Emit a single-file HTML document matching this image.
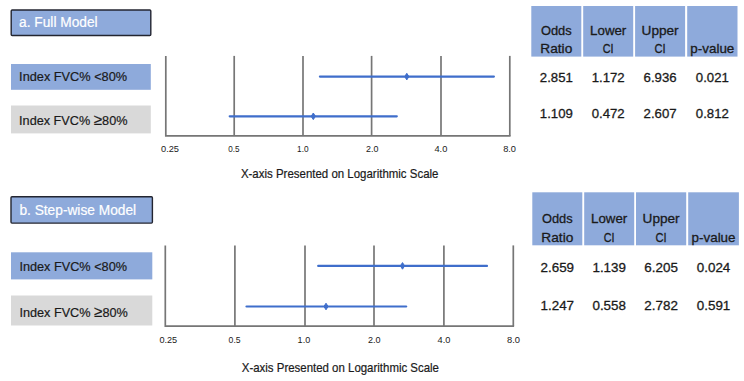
<!DOCTYPE html>
<html><head><meta charset="utf-8"><title>Forest plot</title>
<style>html,body{margin:0;padding:0;background:#fff;width:744px;height:381px;overflow:hidden}svg{display:block}</style>
</head><body>
<svg width="744" height="381" viewBox="0 0 744 381" font-family='"Liberation Sans", sans-serif'>
<rect width="744" height="381" fill="#ffffff"/>
<rect x="11.2" y="10.0" width="139.6" height="25.500000000000004" rx="1" fill="#8eaadb" stroke="#232530" stroke-width="1.4"/>
<text x="19.1" y="26.8" font-size="14" fill="#ffffff" stroke="#ffffff" text-anchor="start" textLength="78.5" lengthAdjust="spacingAndGlyphs" stroke-width="0.2">a. Full Model</text>
<rect x="11" y="64" width="139.8" height="25.799999999999997" fill="#8eaadb"/>
<text x="19.1" y="81.2" font-size="13" fill="#1a1a1a" stroke="#1a1a1a" text-anchor="start" textLength="108" lengthAdjust="spacingAndGlyphs" stroke-width="0.2">Index FVC% &lt;80%</text>
<rect x="11" y="105.5" width="139.8" height="27.900000000000006" fill="#d9d9d9"/>
<text x="19.1" y="125" font-size="13" fill="#1a1a1a" stroke="#1a1a1a" text-anchor="start" textLength="108.4" lengthAdjust="spacingAndGlyphs" stroke-width="0.2">Index FVC% <tspan font-size="15.6">≥</tspan>80%</text>
<line x1="234.2" y1="55.9" x2="234.2" y2="135.8" stroke="#767676" stroke-width="1.7"/>
<line x1="303" y1="55.9" x2="303" y2="135.8" stroke="#767676" stroke-width="1.7"/>
<line x1="371.6" y1="55.9" x2="371.6" y2="135.8" stroke="#767676" stroke-width="1.7"/>
<line x1="441" y1="55.9" x2="441" y2="135.8" stroke="#767676" stroke-width="1.7"/>
<line x1="509.8" y1="55.9" x2="509.8" y2="135.8" stroke="#767676" stroke-width="1.7"/>
<polyline points="165.8,55.9 165.8,135.8 510.6,135.8" fill="none" stroke="#767676" stroke-width="1.7"/>
<line x1="319.9" y1="76.6" x2="493.9" y2="76.6" stroke="#3f6ecb" stroke-width="2.2" stroke-linecap="round"/>
<polygon points="406.8,73.3 408.90,76.6 406.8,79.89999999999999 404.70,76.6" fill="#3f6ecb" stroke="#3f6ecb" stroke-width="1.0" stroke-linejoin="round"/>
<line x1="229.7" y1="116.3" x2="396.8" y2="116.3" stroke="#3f6ecb" stroke-width="2.2" stroke-linecap="round"/>
<polygon points="313.3,113.0 315.40,116.3 313.3,119.6 311.20,116.3" fill="#3f6ecb" stroke="#3f6ecb" stroke-width="1.0" stroke-linejoin="round"/>
<text x="170" y="152" font-size="8.6" fill="#1a1a1a" stroke="#1a1a1a" text-anchor="middle" textLength="18" lengthAdjust="spacingAndGlyphs" stroke-width="0">0.25</text>
<text x="233.9" y="152" font-size="8.6" fill="#1a1a1a" stroke="#1a1a1a" text-anchor="middle" textLength="11.3" lengthAdjust="spacingAndGlyphs" stroke-width="0">0.5</text>
<text x="302.8" y="152" font-size="8.6" fill="#1a1a1a" stroke="#1a1a1a" text-anchor="middle" textLength="11.5" lengthAdjust="spacingAndGlyphs" stroke-width="0">1.0</text>
<text x="372.3" y="152" font-size="8.6" fill="#1a1a1a" stroke="#1a1a1a" text-anchor="middle" textLength="12.4" lengthAdjust="spacingAndGlyphs" stroke-width="0">2.0</text>
<text x="440.9" y="152" font-size="8.6" fill="#1a1a1a" stroke="#1a1a1a" text-anchor="middle" textLength="12.9" lengthAdjust="spacingAndGlyphs" stroke-width="0">4.0</text>
<text x="509.6" y="152" font-size="8.6" fill="#1a1a1a" stroke="#1a1a1a" text-anchor="middle" textLength="12.9" lengthAdjust="spacingAndGlyphs" stroke-width="0">8.0</text>
<text x="240.9" y="178.3" font-size="12.2" fill="#1a1a1a" stroke="#1a1a1a" text-anchor="start" textLength="197.6" lengthAdjust="spacingAndGlyphs" stroke-width="0.2">X-axis Presented on Logarithmic Scale</text>
<rect x="531.3" y="6.0" width="50.0" height="50.6" fill="#8eaadb"/>
<rect x="583.2" y="6.0" width="50.0" height="50.6" fill="#8eaadb"/>
<rect x="635.1" y="6.0" width="50.0" height="50.6" fill="#8eaadb"/>
<rect x="687.2" y="6.0" width="50.299999999999955" height="50.6" fill="#8eaadb"/>
<text x="556.30" y="34.8" font-size="13.2" fill="#1a1a1a" stroke="#1a1a1a" text-anchor="middle" textLength="30.7" lengthAdjust="spacingAndGlyphs" stroke-width="0.3">Odds</text>
<text x="556.30" y="52.8" font-size="13.2" fill="#1a1a1a" stroke="#1a1a1a" text-anchor="middle" textLength="32" lengthAdjust="spacingAndGlyphs" stroke-width="0.3">Ratio</text>
<text x="608.20" y="34.8" font-size="13.2" fill="#1a1a1a" stroke="#1a1a1a" text-anchor="middle" textLength="36.2" lengthAdjust="spacingAndGlyphs" stroke-width="0.3">Lower</text>
<text x="608.20" y="52.8" font-size="13.2" fill="#1a1a1a" stroke="#1a1a1a" text-anchor="middle" textLength="10.8" lengthAdjust="spacingAndGlyphs" stroke-width="0.3">CI</text>
<text x="660.10" y="34.8" font-size="13.2" fill="#1a1a1a" stroke="#1a1a1a" text-anchor="middle" textLength="37.1" lengthAdjust="spacingAndGlyphs" stroke-width="0.3">Upper</text>
<text x="660.10" y="52.8" font-size="13.2" fill="#1a1a1a" stroke="#1a1a1a" text-anchor="middle" textLength="11.1" lengthAdjust="spacingAndGlyphs" stroke-width="0.3">CI</text>
<text x="712.35" y="52.8" font-size="13.2" fill="#1a1a1a" stroke="#1a1a1a" text-anchor="middle" textLength="44" lengthAdjust="spacingAndGlyphs" stroke-width="0.3">p-value</text>
<text x="556.30" y="81.5" font-size="13.4" fill="#1a1a1a" stroke="#1a1a1a" text-anchor="middle" textLength="33" lengthAdjust="spacingAndGlyphs" stroke-width="0.3">2.851</text>
<text x="608.20" y="81.5" font-size="13.4" fill="#1a1a1a" stroke="#1a1a1a" text-anchor="middle" textLength="33" lengthAdjust="spacingAndGlyphs" stroke-width="0.3">1.172</text>
<text x="660.10" y="81.5" font-size="13.4" fill="#1a1a1a" stroke="#1a1a1a" text-anchor="middle" textLength="33" lengthAdjust="spacingAndGlyphs" stroke-width="0.3">6.936</text>
<text x="712.35" y="81.5" font-size="13.4" fill="#1a1a1a" stroke="#1a1a1a" text-anchor="middle" textLength="33" lengthAdjust="spacingAndGlyphs" stroke-width="0.3">0.021</text>
<text x="556.30" y="118.4" font-size="13.4" fill="#1a1a1a" stroke="#1a1a1a" text-anchor="middle" textLength="33" lengthAdjust="spacingAndGlyphs" stroke-width="0.3">1.109</text>
<text x="608.20" y="118.4" font-size="13.4" fill="#1a1a1a" stroke="#1a1a1a" text-anchor="middle" textLength="33" lengthAdjust="spacingAndGlyphs" stroke-width="0.3">0.472</text>
<text x="660.10" y="118.4" font-size="13.4" fill="#1a1a1a" stroke="#1a1a1a" text-anchor="middle" textLength="33" lengthAdjust="spacingAndGlyphs" stroke-width="0.3">2.607</text>
<text x="712.35" y="118.4" font-size="13.4" fill="#1a1a1a" stroke="#1a1a1a" text-anchor="middle" textLength="33" lengthAdjust="spacingAndGlyphs" stroke-width="0.3">0.812</text>
<rect x="11.0" y="196.7" width="141.39999999999998" height="26.400000000000013" rx="1" fill="#8eaadb" stroke="#232530" stroke-width="1.4"/>
<text x="19.4" y="215.4" font-size="14" fill="#ffffff" stroke="#ffffff" text-anchor="start" textLength="116.7" lengthAdjust="spacingAndGlyphs" stroke-width="0.2">b. Step-wise Model</text>
<rect x="11" y="252.3" width="141.3" height="27.099999999999966" fill="#8eaadb"/>
<text x="19.4" y="271.4" font-size="13" fill="#1a1a1a" stroke="#1a1a1a" text-anchor="start" textLength="107.6" lengthAdjust="spacingAndGlyphs" stroke-width="0.2">Index FVC% &lt;80%</text>
<rect x="11" y="295.5" width="141.3" height="30.0" fill="#d9d9d9"/>
<text x="19.4" y="316.5" font-size="13" fill="#1a1a1a" stroke="#1a1a1a" text-anchor="start" textLength="108.4" lengthAdjust="spacingAndGlyphs" stroke-width="0.2">Index FVC% <tspan font-size="15.6">≥</tspan>80%</text>
<line x1="234.9" y1="245.4" x2="234.9" y2="326.2" stroke="#767676" stroke-width="1.7"/>
<line x1="305" y1="245.4" x2="305" y2="326.2" stroke="#767676" stroke-width="1.7"/>
<line x1="374" y1="245.4" x2="374" y2="326.2" stroke="#767676" stroke-width="1.7"/>
<line x1="443.9" y1="245.4" x2="443.9" y2="326.2" stroke="#767676" stroke-width="1.7"/>
<line x1="513.3" y1="245.4" x2="513.3" y2="326.2" stroke="#767676" stroke-width="1.7"/>
<polyline points="165.3,245.4 165.3,326.2 514.0999999999999,326.2" fill="none" stroke="#767676" stroke-width="1.7"/>
<line x1="318.2" y1="265.9" x2="487" y2="265.9" stroke="#3f6ecb" stroke-width="2.2" stroke-linecap="round"/>
<polygon points="402.5,262.59999999999997 404.60,265.9 402.5,269.2 400.40,265.9" fill="#3f6ecb" stroke="#3f6ecb" stroke-width="1.0" stroke-linejoin="round"/>
<line x1="246.5" y1="306.5" x2="406.2" y2="306.5" stroke="#3f6ecb" stroke-width="2.2" stroke-linecap="round"/>
<polygon points="326,303.2 328.10,306.5 326,309.8 323.90,306.5" fill="#3f6ecb" stroke="#3f6ecb" stroke-width="1.0" stroke-linejoin="round"/>
<text x="168.3" y="342.9" font-size="8.6" fill="#1a1a1a" stroke="#1a1a1a" text-anchor="middle" textLength="17.8" lengthAdjust="spacingAndGlyphs" stroke-width="0">0.25</text>
<text x="234.6" y="342.9" font-size="8.6" fill="#1a1a1a" stroke="#1a1a1a" text-anchor="middle" textLength="12" lengthAdjust="spacingAndGlyphs" stroke-width="0">0.5</text>
<text x="303.9" y="342.9" font-size="8.6" fill="#1a1a1a" stroke="#1a1a1a" text-anchor="middle" textLength="12.6" lengthAdjust="spacingAndGlyphs" stroke-width="0">1.0</text>
<text x="374.2" y="342.9" font-size="8.6" fill="#1a1a1a" stroke="#1a1a1a" text-anchor="middle" textLength="12.6" lengthAdjust="spacingAndGlyphs" stroke-width="0">2.0</text>
<text x="444" y="342.9" font-size="8.6" fill="#1a1a1a" stroke="#1a1a1a" text-anchor="middle" textLength="12.9" lengthAdjust="spacingAndGlyphs" stroke-width="0">4.0</text>
<text x="513.5" y="342.9" font-size="8.6" fill="#1a1a1a" stroke="#1a1a1a" text-anchor="middle" textLength="13" lengthAdjust="spacingAndGlyphs" stroke-width="0">8.0</text>
<text x="241.8" y="372.2" font-size="12.2" fill="#1a1a1a" stroke="#1a1a1a" text-anchor="start" textLength="197.2" lengthAdjust="spacingAndGlyphs" stroke-width="0.2">X-axis Presented on Logarithmic Scale</text>
<rect x="532.3" y="192.3" width="50.0" height="53.0" fill="#8eaadb"/>
<rect x="584.2" y="192.3" width="50.0" height="53.0" fill="#8eaadb"/>
<rect x="636" y="192.3" width="50.200000000000045" height="53.0" fill="#8eaadb"/>
<rect x="688.2" y="192.3" width="50.69999999999993" height="53.0" fill="#8eaadb"/>
<text x="557.30" y="222.7" font-size="13.6" fill="#1a1a1a" stroke="#1a1a1a" text-anchor="middle" textLength="30.7" lengthAdjust="spacingAndGlyphs" stroke-width="0.3">Odds</text>
<text x="557.30" y="241.5" font-size="13.6" fill="#1a1a1a" stroke="#1a1a1a" text-anchor="middle" textLength="32" lengthAdjust="spacingAndGlyphs" stroke-width="0.3">Ratio</text>
<text x="609.20" y="222.7" font-size="13.6" fill="#1a1a1a" stroke="#1a1a1a" text-anchor="middle" textLength="36.2" lengthAdjust="spacingAndGlyphs" stroke-width="0.3">Lower</text>
<text x="609.20" y="241.5" font-size="13.6" fill="#1a1a1a" stroke="#1a1a1a" text-anchor="middle" textLength="10.8" lengthAdjust="spacingAndGlyphs" stroke-width="0.3">CI</text>
<text x="661.10" y="222.7" font-size="13.6" fill="#1a1a1a" stroke="#1a1a1a" text-anchor="middle" textLength="37.1" lengthAdjust="spacingAndGlyphs" stroke-width="0.3">Upper</text>
<text x="661.10" y="241.5" font-size="13.6" fill="#1a1a1a" stroke="#1a1a1a" text-anchor="middle" textLength="11.1" lengthAdjust="spacingAndGlyphs" stroke-width="0.3">CI</text>
<text x="713.55" y="241.5" font-size="13.6" fill="#1a1a1a" stroke="#1a1a1a" text-anchor="middle" textLength="44" lengthAdjust="spacingAndGlyphs" stroke-width="0.3">p-value</text>
<text x="557.30" y="271.7" font-size="13.4" fill="#1a1a1a" stroke="#1a1a1a" text-anchor="middle" textLength="33.5" lengthAdjust="spacingAndGlyphs" stroke-width="0.3">2.659</text>
<text x="609.20" y="271.7" font-size="13.4" fill="#1a1a1a" stroke="#1a1a1a" text-anchor="middle" textLength="33.5" lengthAdjust="spacingAndGlyphs" stroke-width="0.3">1.139</text>
<text x="661.10" y="271.7" font-size="13.4" fill="#1a1a1a" stroke="#1a1a1a" text-anchor="middle" textLength="33.5" lengthAdjust="spacingAndGlyphs" stroke-width="0.3">6.205</text>
<text x="713.55" y="271.7" font-size="13.4" fill="#1a1a1a" stroke="#1a1a1a" text-anchor="middle" textLength="33.5" lengthAdjust="spacingAndGlyphs" stroke-width="0.3">0.024</text>
<text x="557.30" y="310.3" font-size="13.4" fill="#1a1a1a" stroke="#1a1a1a" text-anchor="middle" textLength="33.5" lengthAdjust="spacingAndGlyphs" stroke-width="0.3">1.247</text>
<text x="609.20" y="310.3" font-size="13.4" fill="#1a1a1a" stroke="#1a1a1a" text-anchor="middle" textLength="33.5" lengthAdjust="spacingAndGlyphs" stroke-width="0.3">0.558</text>
<text x="661.10" y="310.3" font-size="13.4" fill="#1a1a1a" stroke="#1a1a1a" text-anchor="middle" textLength="33.5" lengthAdjust="spacingAndGlyphs" stroke-width="0.3">2.782</text>
<text x="713.55" y="310.3" font-size="13.4" fill="#1a1a1a" stroke="#1a1a1a" text-anchor="middle" textLength="33.5" lengthAdjust="spacingAndGlyphs" stroke-width="0.3">0.591</text>
</svg>
</body></html>
